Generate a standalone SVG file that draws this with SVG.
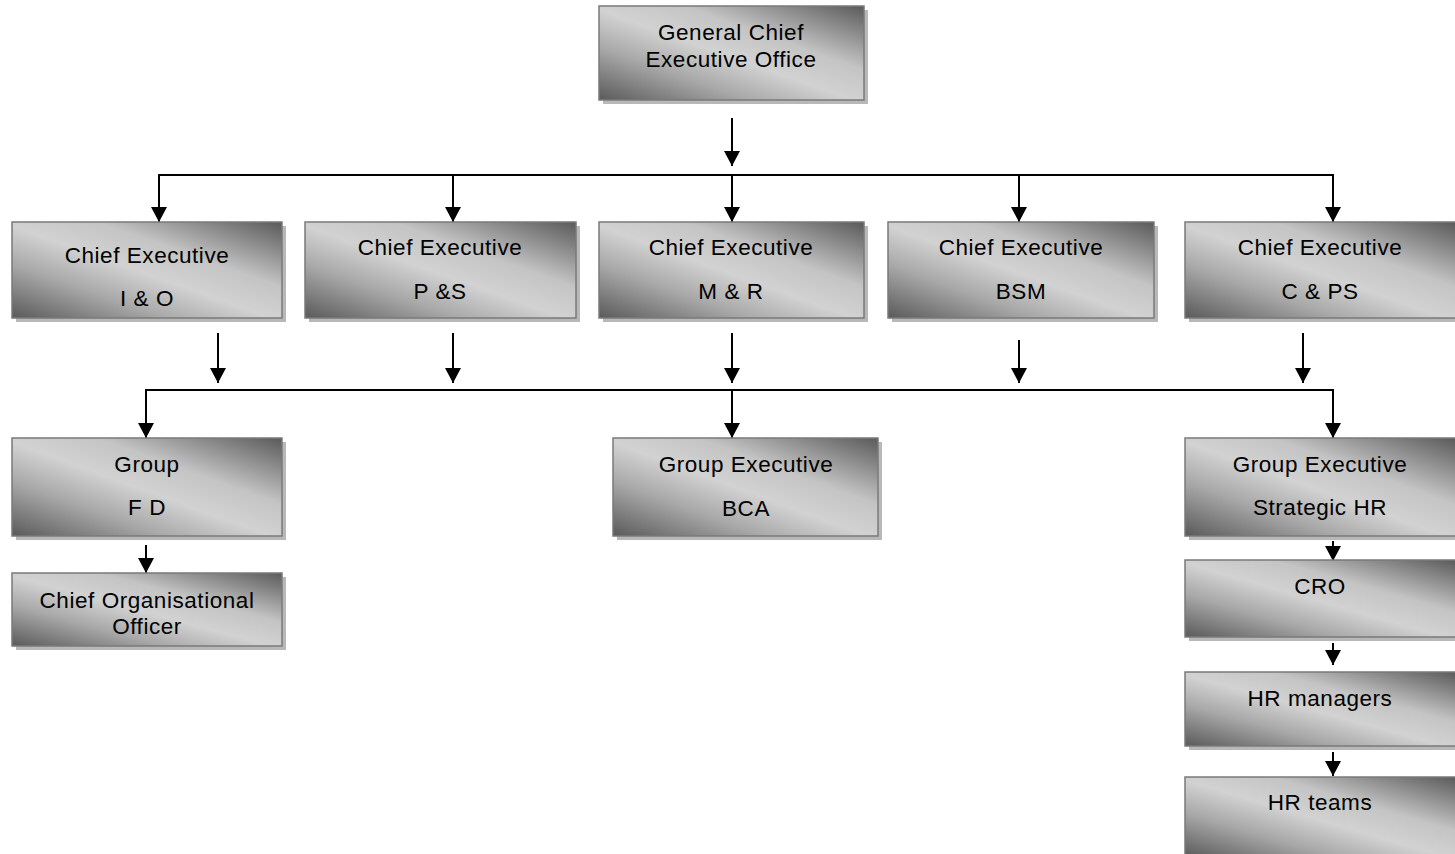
<svg xmlns="http://www.w3.org/2000/svg" width="1455" height="854" viewBox="0 0 1455 854">
<style>
.box{fill:url(#g);stroke:#7a7a7a;stroke-width:1.5}
.sh{fill:#b8b8b8}
.t{font-family:"Liberation Sans",Arial,sans-serif;font-size:22.5px;letter-spacing:0.55px;fill:#000;text-anchor:middle}
.c{stroke:#000;stroke-width:2;fill:none}
.a{stroke:#000;stroke-width:2;fill:none;marker-end:url(#ah)}
</style>
<defs>
<linearGradient id="g" x1="0" y1="1" x2="1" y2="0">
<stop offset="0" stop-color="#5a5a5a"/>
<stop offset="0.28" stop-color="#a8a8a8"/>
<stop offset="0.48" stop-color="#d2d2d2"/>
<stop offset="0.66" stop-color="#c4c4c4"/>
<stop offset="1" stop-color="#5a5a5a"/>
</linearGradient>
<marker id="ah" markerUnits="userSpaceOnUse" markerWidth="17" markerHeight="17" refX="15" refY="8" orient="auto" viewBox="0 0 17 17">
<path d="M0,0 L15,8 L0,16 z" fill="#000"/>
</marker>
</defs>
<g id="connectors">
<line class="a" x1="732" y1="118" x2="732" y2="166"/>
<line class="c" x1="159" y1="175" x2="1334" y2="175"/>
<line class="a" x1="159" y1="174" x2="159" y2="222"/>
<line class="a" x1="453" y1="174" x2="453" y2="222"/>
<line class="a" x1="732" y1="174" x2="732" y2="222"/>
<line class="a" x1="1019" y1="174" x2="1019" y2="222"/>
<line class="a" x1="1333" y1="174" x2="1333" y2="222"/>
<line class="a" x1="218" y1="333" x2="218" y2="383"/>
<line class="a" x1="453" y1="333" x2="453" y2="383"/>
<line class="a" x1="732" y1="333" x2="732" y2="383"/>
<line class="a" x1="1019" y1="340" x2="1019" y2="383"/>
<line class="a" x1="1303" y1="333" x2="1303" y2="383"/>
<line class="c" x1="146" y1="390" x2="1334" y2="390"/>
<line class="a" x1="146" y1="389" x2="146" y2="438"/>
<line class="a" x1="732" y1="389" x2="732" y2="438"/>
<line class="a" x1="1333" y1="389" x2="1333" y2="438"/>
<line class="a" x1="146" y1="545" x2="146" y2="573"/>
<line class="a" x1="1333" y1="541" x2="1333" y2="561"/>
<line class="a" x1="1333" y1="643" x2="1333" y2="665"/>
<line class="a" x1="1333" y1="752" x2="1333" y2="776"/>
</g>
<g id="gceo">
<rect class="sh" x="603" y="10" width="265" height="94"/>
<rect class="box" x="599" y="6" width="265" height="94"/>
<text class="t" x="731" y="40">General Chief</text>
<text class="t" x="731" y="67">Executive Office</text>
</g>
<g id="ce-io">
<rect class="sh" x="16" y="226" width="270" height="96"/>
<rect class="box" x="12" y="222" width="270" height="96"/>
<text class="t" x="147" y="263">Chief Executive</text>
<text class="t" x="147" y="306">I &amp; O</text>
</g>
<g id="ce-ps">
<rect class="sh" x="309" y="226" width="271" height="96"/>
<rect class="box" x="305" y="222" width="271" height="96"/>
<text class="t" x="440" y="255">Chief Executive</text>
<text class="t" x="440" y="299">P &amp;S</text>
</g>
<g id="ce-mr">
<rect class="sh" x="603" y="226" width="265" height="96"/>
<rect class="box" x="599" y="222" width="265" height="96"/>
<text class="t" x="731" y="255">Chief Executive</text>
<text class="t" x="731" y="299">M &amp; R</text>
</g>
<g id="ce-bsm">
<rect class="sh" x="892" y="226" width="266" height="96"/>
<rect class="box" x="888" y="222" width="266" height="96"/>
<text class="t" x="1021" y="255">Chief Executive</text>
<text class="t" x="1021" y="299">BSM</text>
</g>
<g id="ce-cps">
<rect class="sh" x="1189" y="226" width="270" height="96"/>
<rect class="box" x="1185" y="222" width="271" height="96"/>
<text class="t" x="1320" y="255">Chief Executive</text>
<text class="t" x="1320" y="299">C &amp; PS</text>
</g>
<g id="g-fd">
<rect class="sh" x="16" y="442" width="270" height="98"/>
<rect class="box" x="12" y="438" width="270" height="98"/>
<text class="t" x="147" y="472">Group</text>
<text class="t" x="147" y="515">F D</text>
</g>
<g id="ge-bca">
<rect class="sh" x="617" y="442" width="265" height="98"/>
<rect class="box" x="613" y="438" width="265" height="98"/>
<text class="t" x="746" y="472">Group Executive</text>
<text class="t" x="746" y="516">BCA</text>
</g>
<g id="ge-shr">
<rect class="sh" x="1189" y="442" width="270" height="98"/>
<rect class="box" x="1185" y="438" width="271" height="98"/>
<text class="t" x="1320" y="472">Group Executive</text>
<text class="t" x="1320" y="515">Strategic HR</text>
</g>
<g id="coo">
<rect class="sh" x="16" y="577" width="270" height="73"/>
<rect class="box" x="12" y="573" width="270" height="73"/>
<text class="t" x="147" y="608">Chief Organisational</text>
<text class="t" x="147" y="634">Officer</text>
</g>
<g id="cro">
<rect class="sh" x="1189" y="564" width="270" height="77"/>
<rect class="box" x="1185" y="560" width="271" height="77"/>
<text class="t" x="1320" y="594">CRO</text>
</g>
<g id="hr-managers">
<rect class="sh" x="1189" y="676" width="270" height="74"/>
<rect class="box" x="1185" y="672" width="271" height="74"/>
<text class="t" x="1320" y="706">HR managers</text>
</g>
<g id="hr-teams">
<rect class="sh" x="1189" y="781" width="270" height="80"/>
<rect class="box" x="1185" y="777" width="271" height="80"/>
<text class="t" x="1320" y="810">HR teams</text>
</g>
</svg>
